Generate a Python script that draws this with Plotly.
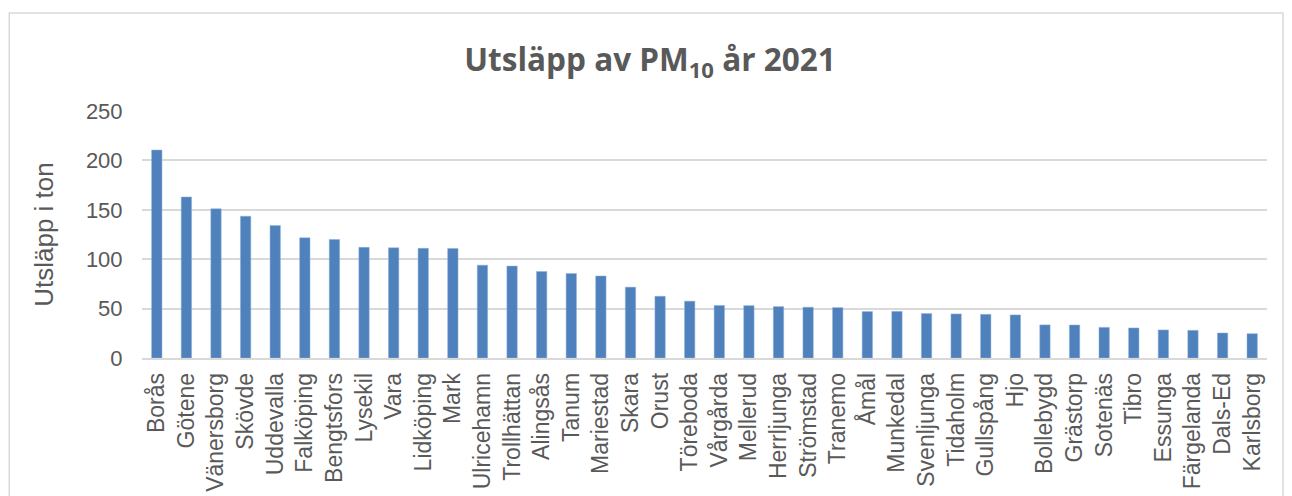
import plotly.graph_objects as go

kommuner = ["Borås", "Götene", "Vänersborg", "Skövde", "Uddevalla", "Falköping", "Bengtsfors",
            "Lysekil", "Vara", "Lidköping", "Mark", "Ulricehamn", "Trollhättan", "Alingsås",
            "Tanum", "Mariestad", "Skara", "Orust", "Töreboda", "Vårgårda", "Mellerud",
            "Herrljunga", "Strömstad", "Tranemo", "Åmål", "Munkedal", "Svenljunga", "Tidaholm",
            "Gullspång", "Hjo", "Bollebygd", "Grästorp", "Sotenäs", "Tibro", "Essunga",
            "Färgelanda", "Dals-Ed", "Karlsborg"]
utslapp = [210.5, 163, 151, 143.5, 134, 121.6, 120, 112, 111.5, 111, 110.8, 94, 93, 87.6,
           85.5, 83, 71.7, 62.5, 57.5, 53.2, 53, 52, 51.4, 51, 47, 47.2, 45, 44.6, 44.2, 43.6,
           33.5, 33.4, 31, 30.4, 28.4, 28, 25.3, 24.6]
y_ticks = [0, 50, 100, 150, 200, 250]

grey = "#595959"
fig = go.Figure(go.Bar(x=kommuner, y=utslapp,
                       marker=dict(color="#4f81bd", line=dict(color="#8fb0d9", width=0.5)),
                       width=0.35))

fig.update_layout(
    width=1284, height=488,
    margin=dict(l=134, r=25, t=103, b=138),
    paper_bgcolor="white", plot_bgcolor="white",
    font=dict(family="Liberation Sans, Arial, sans-serif", color=grey),
    title=dict(text="<b>Utsläpp av PM<sub>10</sub> år 2021</b>", x=0.5, xanchor="center",
               y=0.893, yanchor="middle", font=dict(size=31.5, color=grey, family="Open Sans, sans-serif")),
    showlegend=False,
    shapes=[dict(type="rect", xref="paper", yref="paper", x0=-0.118, x1=1.0142, y0=-1.0, y1=1.397,
                 line=dict(color="#d9d9d9", width=1.5), fillcolor="rgba(0,0,0,0)", layer="below")],
)
fig.update_xaxes(tickmode="array", tickvals=kommuner, ticktext=kommuner,
                 tickangle=-90, tickfont=dict(size=23, color=grey), showgrid=False,
                 showline=True, linecolor="#d9d9d9", linewidth=1.5, automargin=False,
                 ticks="outside", ticklen=4, tickcolor="rgba(0,0,0,0)")
fig.update_yaxes(range=[0, 250], tickvals=y_ticks, tickfont=dict(size=22, color=grey),
                 gridcolor="#d9d9d9", gridwidth=1.5, zeroline=False, showline=False,
                 ticks="outside", ticklen=14, tickcolor="rgba(0,0,0,0)", automargin=False,
                 title=dict(text="Utsläpp i ton", font=dict(size=26, color=grey), standoff=24))

fig.write_html("out.html")
